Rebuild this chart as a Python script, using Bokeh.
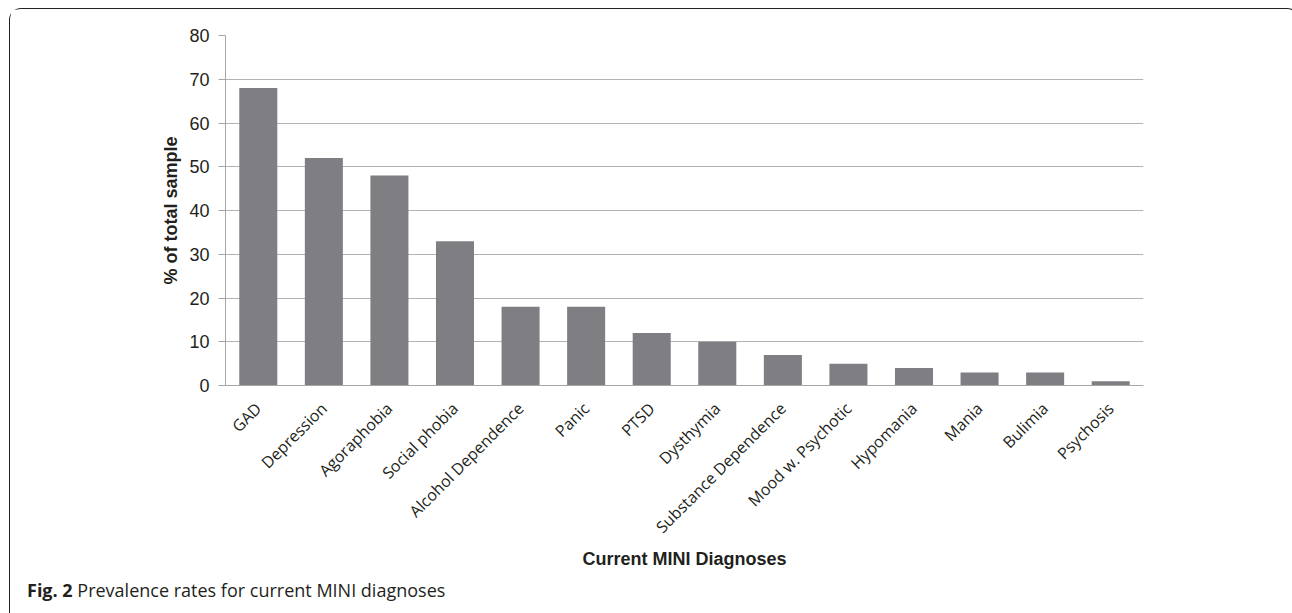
import math
from bokeh.plotting import figure
from bokeh.layouts import column
from bokeh.models import ColumnDataSource, FixedTicker, Div
from bokeh.embed import file_html
from bokeh.resources import INLINE

categories = ["GAD", "Depression", "Agoraphobia", "Social phobia", "Alcohol Dependence",
              "Panic", "PTSD", "Dysthymia", "Substance Dependence", "Mood w. Psychotic",
              "Hypomania", "Mania", "Bulimia", "Psychosis"]
values = [68, 52, 48, 33, 18, 18, 12, 10, 7, 5, 4, 3, 3, 1]
y_ticks = [0, 10, 20, 30, 40, 50, 60, 70, 80]
caption_bold = "Fig. 2"
caption_text = "Prevalence rates for current MINI diagnoses"

TXT = "#231f20"

source = ColumnDataSource(data=dict(cat=categories, val=values))

p = figure(x_range=categories, y_range=(0, 80), width=1278, height=564,
           output_backend="svg", toolbar_location=None,
           min_border_left=215, min_border_right=145, min_border_top=26, min_border_bottom=188)
p.vbar(x="cat", top="val", width=0.58, source=source, fill_color="#7f7f83", line_color=None)

p.outline_line_color = None
p.xgrid.grid_line_color = None
p.ygrid.grid_line_color = "#b3b3b3"
p.ygrid.grid_line_width = 1

p.yaxis.ticker = FixedTicker(ticks=y_ticks)
p.yaxis.axis_line_color = "#a6a6a6"
p.yaxis.major_tick_line_color = "#a6a6a6"
p.yaxis.major_tick_out = 7
p.yaxis.major_tick_in = 0
p.yaxis.minor_tick_line_color = None
p.yaxis.major_label_text_font = "Liberation Sans"
p.yaxis.major_label_text_font_size = "18px"
p.yaxis.major_label_text_color = TXT
p.yaxis.major_label_standoff = 9
p.yaxis.axis_label = "% of total sample"
p.yaxis.axis_label_text_font = "Liberation Sans"
p.yaxis.axis_label_text_font_style = "bold"
p.yaxis.axis_label_text_font_size = "18px"
p.yaxis.axis_label_text_color = TXT
p.yaxis.axis_label_standoff = 5

p.xaxis.axis_line_color = "#a6a6a6"
p.xaxis.major_tick_line_color = None
p.xaxis.minor_tick_line_color = None
p.xaxis.major_label_orientation = math.pi / 4
p.xaxis.major_label_text_font = "Open Sans"
p.xaxis.major_label_text_font_size = "16px"
p.xaxis.major_label_text_color = TXT
p.xaxis.major_label_standoff = 14
p.xaxis.axis_label = "Current MINI Diagnoses"
p.xaxis.axis_label_text_font = "Liberation Sans"
p.xaxis.axis_label_text_font_style = "bold"
p.xaxis.axis_label_text_font_size = "18px"
p.xaxis.axis_label_text_color = TXT
p.xaxis.axis_label_standoff = 1

cap = Div(text=f"<b>{caption_bold}</b> {caption_text}", width=1278, height=38,
          styles={"font-family": "'Open Sans'", "font-size": "18px", "color": TXT,
                  "padding-left": "12px", "line-height": "24px"})

layout = column(p, cap, spacing=0)
layout.styles = {"margin-top": "8px", "margin-left": "9px",
                 "border-top": "1.5px solid #222", "border-left": "1.5px solid #222",
                 "border-right": "1.5px solid #222", "border-radius": "12px 12px 0 0"}

open("out.html", "w").write(file_html(layout, INLINE))
